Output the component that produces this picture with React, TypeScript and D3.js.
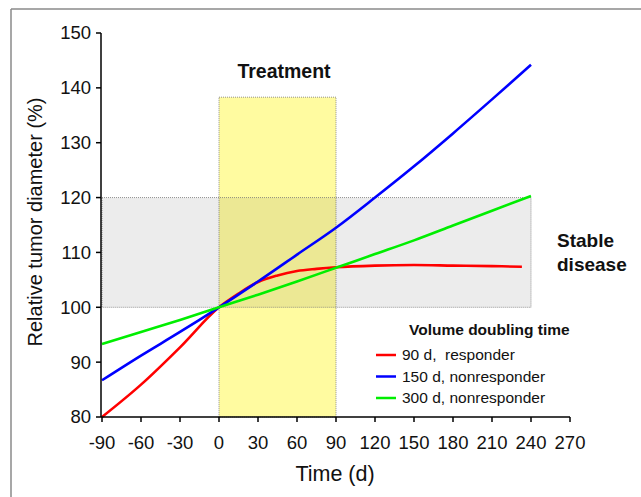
import React from "react";
import * as d3 from "d3";

const xTicks = [-90, -60, -30, 0, 30, 60, 90, 120, 150, 180, 210, 240, 270];
const yTicks = [80, 90, 100, 110, 120, 130, 140, 150];

const redDays = [-90, -60, -30, 0, 15, 30, 45, 60, 75, 90, 120, 150, 180, 210, 233];
const redValues = [80, 85.9, 92.7, 100, 102.5, 104.6, 105.8, 106.6, 107.0, 107.3, 107.6, 107.7, 107.6, 107.5, 107.4];

const blueDays = [-90, -60, -30, 0, 30, 60, 90, 120, 150, 180, 210, 240];
const blueValues = [86.7, 91.2, 95.5, 100, 104.7, 109.6, 114.5, 120, 125.7, 131.7, 137.9, 144.2];

const greenDays = [-90, -60, -30, 0, 30, 60, 90, 120, 150, 180, 210, 240];
const greenValues = [93.3, 95.5, 97.7, 100, 102.3, 104.7, 107.2, 109.7, 112.2, 114.9, 117.6, 120.3];

const seriesNames = ["90 d,  responder", "150 d, nonresponder", "300 d, nonresponder"];
const seriesColors = ["#ff0000", "#0000ff", "#00ee00"];

const treatment = { start: 0, end: 90, top: 138.3 };
const stable = { start: -90, end: 240, low: 100, high: 120 };

const FONT = "Liberation Sans, Arial, sans-serif";

export default function App() {
  const W = 641, H = 497;
  const x = d3.scaleLinear().domain([-90, 270]).range([102, 570]);
  const y = d3.scaleLinear().domain([80, 150]).range([417, 33]);

  const line = d3.line<[number, number]>()
    .x(d => x(d[0]))
    .y(d => y(d[1]))
    .curve(d3.curveMonotoneX);

  const series = [
    { days: redDays, values: redValues },
    { days: blueDays, values: blueValues },
    { days: greenDays, values: greenValues },
  ];

  const y0 = 417;
  const axisX = 101;

  return (
    <svg width={W} height={H} style={{ position: "absolute", left: 0, top: 0, background: "#fff" }} fontFamily={FONT}>
      <rect x={0} y={0} width={W} height={H} fill="#fff" />
      {/* frame */}
      <line x1={11} y1={9} x2={W} y2={9} stroke="#8a8a8a" strokeWidth={1.5} />
      <line x1={11} y1={9} x2={11} y2={H} stroke="#8a8a8a" strokeWidth={1.5} />

      {/* treatment box */}
      <rect
        x={x(treatment.start)}
        y={y(treatment.top)}
        width={x(treatment.end) - x(treatment.start)}
        height={y(80) - y(treatment.top)}
        fill="#fffba0"
        stroke="#777"
        strokeWidth={0.8}
        strokeDasharray="1,1"
      />
      {/* stable disease box */}
      <rect
        x={x(stable.start)}
        y={y(stable.high)}
        width={x(stable.end) - x(stable.start)}
        height={y(stable.low) - y(stable.high)}
        fill="#000"
        fillOpacity={0.075}
        stroke="#777"
        strokeWidth={0.8}
        strokeDasharray="1,1"
      />

      {/* curves */}
      {series.map((s, i) => (
        <path
          key={i}
          d={line(s.days.map((d, j) => [d, s.values[j]] as [number, number])) || ""}
          fill="none"
          stroke={seriesColors[i]}
          strokeWidth={2.6}
        />
      ))}

      {/* y axis */}
      <line x1={axisX} y1={y(150)} x2={axisX} y2={y0} stroke="#000" strokeWidth={1.5} />
      {yTicks.map(t => (
        <g key={t}>
          <line x1={axisX - 5} x2={axisX} y1={y(t)} y2={y(t)} stroke="#000" strokeWidth={1.5} />
          <text x={91} y={y(t)} dy="0.35em" textAnchor="end" fontSize={18.5} fill="#111">{t}</text>
        </g>
      ))}

      {/* x axis */}
      <line x1={axisX} y1={y0} x2={x(270)} y2={y0} stroke="#000" strokeWidth={1.5} />
      {xTicks.map(t => (
        <g key={t}>
          <line x1={x(t)} x2={x(t)} y1={y0} y2={y0 + 5} stroke="#000" strokeWidth={1.5} />
          <text x={x(t)} y={449} textAnchor="middle" fontSize={18.5} fill="#111">{t}</text>
        </g>
      ))}

      {/* axis titles */}
      <text x={335} y={481} textAnchor="middle" fontSize={21.5} fill="#111">Time (d)</text>
      <text transform={`translate(42,222) rotate(-90)`} textAnchor="middle" fontSize={20} fill="#111">Relative tumor diameter (%)</text>

      {/* annotations */}
      <text x={284} y={78} textAnchor="middle" fontSize={19.5} fontWeight="bold" fill="#111">Treatment</text>
      <text x={557} y={247} fontSize={19} fontWeight="bold" fill="#111">Stable</text>
      <text x={557} y={271} fontSize={19} fontWeight="bold" fill="#111">disease</text>

      {/* legend */}
      <text x={409} y={335} fontSize={15.5} fontWeight="bold" fill="#111">Volume doubling time</text>
      {seriesNames.map((n, i) => (
        <g key={n}>
          <line x1={376} x2={396} y1={355 + i * 21.5} y2={355 + i * 21.5} stroke={seriesColors[i]} strokeWidth={2.5} />
          <text x={402} y={355 + i * 21.5} dy="0.35em" fontSize={15.5} fill="#111" style={{ whiteSpace: "pre" }}>{n}</text>
        </g>
      ))}
    </svg>
  );
}
